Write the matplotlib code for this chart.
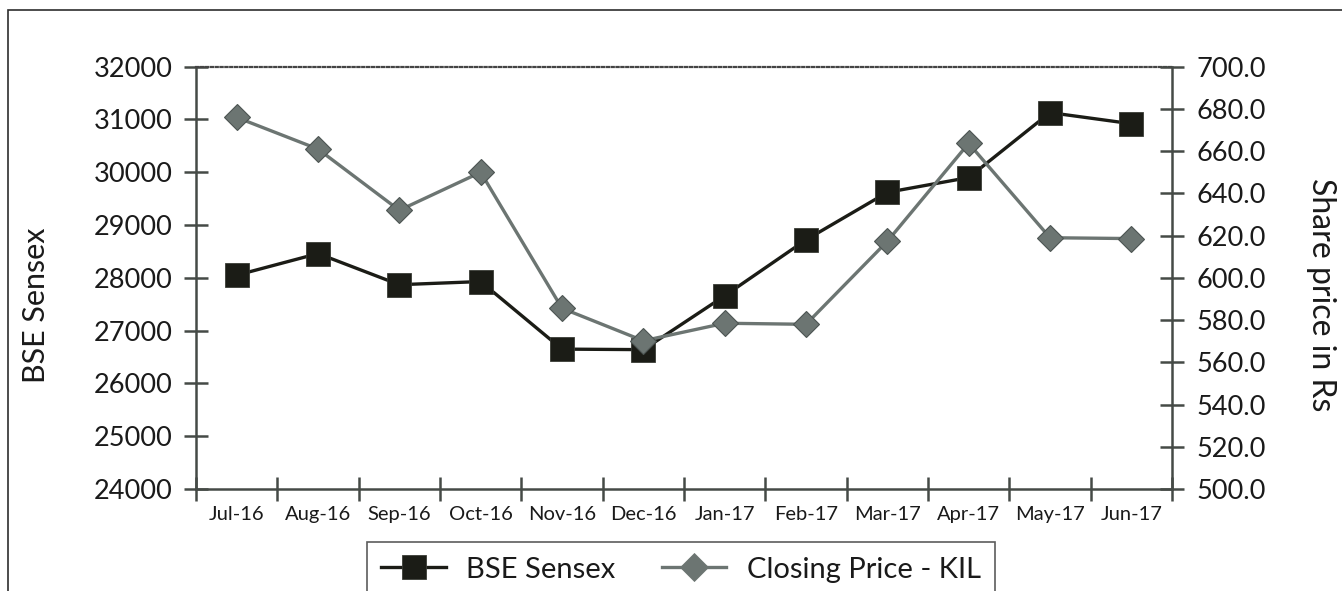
import matplotlib
matplotlib.use("Agg")
import matplotlib.pyplot as plt
from matplotlib.patches import Rectangle
from matplotlib.lines import Line2D
from matplotlib.ticker import FormatStrFormatter

months = ["Jul-16", "Aug-16", "Sep-16", "Oct-16", "Nov-16", "Dec-16",
          "Jan-17", "Feb-17", "Mar-17", "Apr-17", "May-17", "Jun-17"]
sensex = [28050, 28460, 27870, 27930, 26650, 26640,
          27660, 28720, 29620, 29900, 31130, 30920]
kil_price = [676.0, 661.0, 632.0, 650.0, 585.6, 570.2,
             578.5, 578.0, 617.3, 663.7, 619.0, 618.6]
left_ticks = list(range(24000, 32001, 1000))
right_ticks = list(range(500, 701, 20))

plt.rcParams['font.family'] = ['Lato', 'DejaVu Sans']

W, H = 1342, 591
fig = plt.figure(figsize=(W / 100, H / 100), dpi=100)
fig.patch.set_facecolor('white')

# outer border
fig.patches.append(Rectangle((8 / W, -0.05), 1.1, (H - 10.5) / H + 0.05,
                             transform=fig.transFigure, fill=False,
                             edgecolor='#2e2e2e', linewidth=1.2))

ax = fig.add_axes([196 / W, (H - 489) / H, (1172 - 196) / W, (489 - 66.7) / H])
ax2 = ax.twinx()

axis_col = '#454a46'
black_col = '#1b1c16'
gray_col = '#6c7572'

x = list(range(len(months)))
ax.plot(x, sensex, color=black_col, lw=2.4, marker='s', ms=17.5,
        mfc=black_col, mec='#3a3c36', mew=0.6, zorder=3)
ax2.plot(x, kil_price, color=gray_col, lw=2.4, marker='D', ms=12.8,
         mfc=gray_col, mec='#4c5452', mew=0.8, zorder=3)

ax.set_xlim(-0.5, len(months) - 0.5)
ax.set_ylim(24000, 32000)
ax2.set_ylim(500, 700)
ax.set_yticks(left_ticks)
ax2.set_yticks(right_ticks)
ax2.yaxis.set_major_formatter(FormatStrFormatter('%.1f'))

ax.set_xticks(x)
ax.set_xticklabels(months, fontsize=14.5, color='#1a1a1a')
ax.set_xticks([i - 0.5 for i in range(len(months) + 1)], minor=True)
ax.tick_params(axis='x', which='major', length=0, pad=12)
ax.tick_params(axis='x', which='minor', direction='inout', length=17,
               width=1.8, color=axis_col)
ax.tick_params(axis='y', direction='inout', length=17, width=1.8,
               color=axis_col, labelsize=19.5, labelcolor='#1a1a1a', pad=8.5)
ax2.tick_params(axis='y', direction='inout', length=17, width=1.8,
                color=axis_col, labelsize=19.5, labelcolor='#1a1a1a', pad=9)

for a in (ax, ax2):
    for s in ('left', 'right', 'bottom'):
        a.spines[s].set_color(axis_col)
        a.spines[s].set_linewidth(1.8)
ax.spines['right'].set_visible(False)
ax2.spines['left'].set_visible(False)
ax2.spines['bottom'].set_visible(False)
ax2.spines['top'].set_visible(False)
ax.spines['top'].set_color('#444444')
ax.spines['top'].set_linewidth(1.6)
ax.spines['top'].set_linestyle((0, (1, 1.2)))

fig.text(36 / W, (H - 305) / H, "BSE Sensex", rotation=90, ha='center',
         va='center', fontsize=22, color='#1a1a1a')
fig.text(1321 / W, (H - 295) / H, "Share price in Rs", rotation=-90,
         ha='center', va='center', fontsize=23, color='#1a1a1a')

handles = [
    Line2D([], [], color=black_col, lw=2.4, marker='s', ms=17.5,
           mfc=black_col, mec='#3a3c36', mew=0.6),
    Line2D([], [], color=gray_col, lw=2.4, marker='D', ms=14,
           mfc=gray_col, mec=gray_col, mew=0.6),
]
leg = fig.legend(handles, ["BSE Sensex", "Closing Price - KIL"],
                 loc='upper center', bbox_to_anchor=(681 / W, (H - 542) / H),
                 ncol=2, frameon=True, fancybox=False, fontsize=21,
                 handlelength=2.2, handletextpad=0.7, columnspacing=1.6,
                 borderpad=0.5, borderaxespad=0)
leg.get_frame().set_edgecolor('#333333')
leg.get_frame().set_linewidth(1.2)
for t in leg.get_texts():
    t.set_color('#1a1a1a')

fig.savefig("out.png", dpi=100)
